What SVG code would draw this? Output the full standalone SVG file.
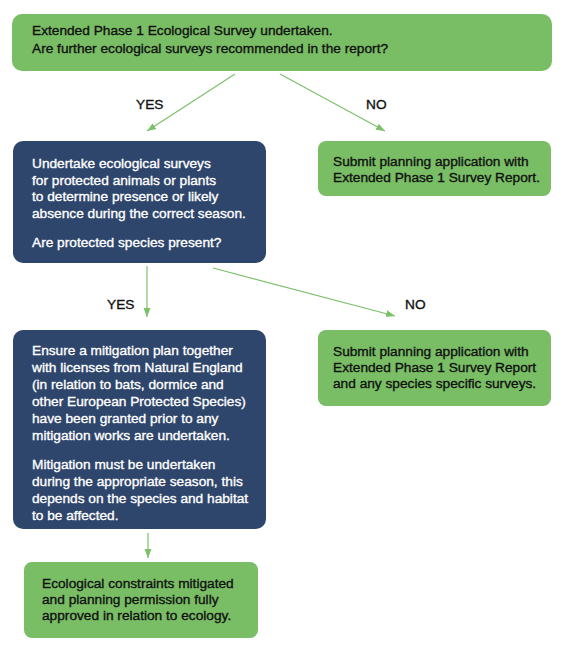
<svg xmlns="http://www.w3.org/2000/svg" width="565" height="656" viewBox="0 0 565 656">
<style>
.g{fill:#79bd65}
.b{fill:#2f466c}
text{font-family:"Liberation Sans",Arial,sans-serif;font-size:13.7px;stroke-width:0.35px}
.dk{fill:#111;stroke:#111}
.wt{fill:#fff;stroke:#fff}
.lbl{fill:#111;stroke:#111}
.c{stroke:#7cc06a;stroke-width:1.2;fill:none;marker-end:url(#ah)}
</style>
<defs>
<marker id="ah" markerUnits="userSpaceOnUse" markerWidth="10" markerHeight="10" viewBox="0 0 10 10" refX="9" refY="5" orient="auto">
<path d="M0,1.5 L9,5 L0,8.5 Z" fill="#7cc06a"/>
</marker>
</defs>
<rect width="565" height="656" fill="#fff"/>
<g id="connectors">
<line class="c" x1="235" y1="74" x2="147" y2="131"/>
<line class="c" x1="280" y1="74" x2="385" y2="131"/>
<line class="c" x1="147" y1="266" x2="147" y2="317"/>
<line class="c" x1="213" y1="268" x2="395" y2="316"/>
<line class="c" x1="148" y1="533" x2="148" y2="558"/>
<text class="lbl" x="136" y="109">YES</text>
<text class="lbl" x="366" y="109">NO</text>
<text class="lbl" x="107" y="309">YES</text>
<text class="lbl" x="405" y="309">NO</text>
</g>
<g id="start">
<rect class="g" x="12" y="14" width="540" height="57" rx="10"/>
<text class="dk" x="32" y="35">Extended Phase 1 Ecological Survey undertaken.</text>
<text class="dk" x="32" y="53">Are further ecological surveys recommended in the report?</text>
</g>
<g id="surveys">
<rect class="b" x="13" y="141" width="253" height="122" rx="10"/>
<text class="wt" x="32" y="168">Undertake ecological surveys</text>
<text class="wt" x="32" y="185">for protected animals or plants</text>
<text class="wt" x="32" y="201">to determine presence or likely</text>
<text class="wt" x="32" y="218">absence during the correct season.</text>
<text class="wt" x="32" y="247">Are protected species present?</text>
</g>
<g id="submit1">
<rect class="g" x="318" y="141" width="233" height="55" rx="8"/>
<text class="dk" x="333" y="166">Submit planning application with</text>
<text class="dk" x="333" y="182">Extended Phase 1 Survey Report.</text>
</g>
<g id="mitigation">
<rect class="b" x="13" y="330" width="253" height="199" rx="10"/>
<text class="wt" x="32" y="355">Ensure a mitigation plan together</text>
<text class="wt" x="32" y="372">with licenses from Natural England</text>
<text class="wt" x="32" y="389">(in relation to bats, dormice and</text>
<text class="wt" x="32" y="406">other European Protected Species)</text>
<text class="wt" x="32" y="423">have been granted prior to any</text>
<text class="wt" x="32" y="440">mitigation works are undertaken.</text>
<text class="wt" x="32" y="469">Mitigation must be undertaken</text>
<text class="wt" x="32" y="486">during the appropriate season, this</text>
<text class="wt" x="32" y="503">depends on the species and habitat</text>
<text class="wt" x="32" y="520">to be affected.</text>
</g>
<g id="submit2">
<rect class="g" x="318" y="330" width="233" height="76" rx="8"/>
<text class="dk" x="333" y="356">Submit planning application with</text>
<text class="dk" x="333" y="372">Extended Phase 1 Survey Report</text>
<text class="dk" x="333" y="388">and any species specific surveys.</text>
</g>
<g id="approved">
<rect class="g" x="24" y="562" width="234" height="76" rx="8"/>
<text class="dk" x="42" y="588">Ecological constraints mitigated</text>
<text class="dk" x="42" y="604">and planning permission fully</text>
<text class="dk" x="42" y="620">approved in relation to ecology.</text>
</g>
</svg>
